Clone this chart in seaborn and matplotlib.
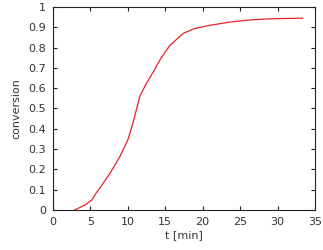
import matplotlib
matplotlib.use("Agg")
import matplotlib.pyplot as plt
import seaborn as sns
import pandas as pd

t_min = [2.9, 4.3, 5.2, 5.8, 6.3, 7.6, 8.9, 10.0, 10.7, 11.6, 12.5, 13.4, 14.3, 15.6, 17.4, 19.0, 21.0, 23.5, 25.9, 29.0, 33.4]
conversion = [0.0, 0.025, 0.05, 0.085, 0.11, 0.18, 0.26, 0.345, 0.43, 0.56, 0.625, 0.68, 0.74, 0.81, 0.87, 0.895, 0.91, 0.925, 0.935, 0.942, 0.945]
x_ticks = [0, 5, 10, 15, 20, 25, 30, 35]
y_ticks = [0, 0.1, 0.2, 0.3, 0.4, 0.5, 0.6, 0.7, 0.8, 0.9, 1]
y_tick_labels = ["0", "0.1", "0.2", "0.3", "0.4", "0.5", "0.6", "0.7", "0.8", "0.9", "1"]

df = pd.DataFrame({"t": t_min, "conversion": conversion})

sns.set_style("ticks")
plt.rcParams['font.family'] = ['DejaVu Sans']

fig = plt.figure(figsize=(3.23, 2.5), dpi=100)
ax = fig.add_axes([0.164, 0.16, 0.811, 0.812])
sns.lineplot(data=df, x="t", y="conversion", color="#e8202a", linewidth=0.9, ax=ax)

ax.set_xlim(0, 35)
ax.set_ylim(0, 1)
ax.set_xticks(x_ticks)
ax.set_yticks(y_ticks)
ax.set_yticklabels(y_tick_labels)
txt = "#333333"
ax.tick_params(direction="in", top=True, right=True, length=3, width=0.8,
               labelsize=8, colors="#222222", labelcolor=txt, pad=5)
for s in ax.spines.values():
    s.set_linewidth(0.8)
    s.set_color("#222222")
ax.set_xlabel("t [min]", fontsize=8, color=txt, labelpad=2)
ax.set_ylabel("conversion", fontsize=8, color=txt, labelpad=5)

fig.savefig("out.png", dpi=100)
